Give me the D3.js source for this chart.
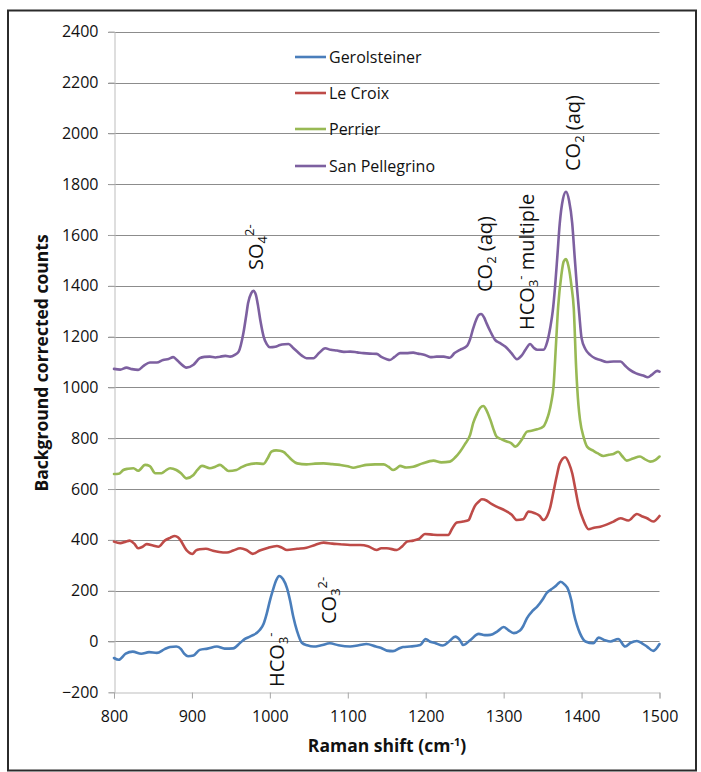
<!DOCTYPE html>
<html>
<head>
<meta charset="utf-8">
<script src="https://cdn.jsdelivr.net/npm/d3@7"></script>
<style>
  html, body { margin: 0; padding: 0; background: #fff; }
  svg { display: block; font-family: "Open Sans", "Noto Sans", sans-serif; }
</style>
</head>
<body>
<svg id="chart" width="701" height="772"></svg>
<script>
// ---- Data ----
const seriesNames = ["Gerolsteiner", "Le Croix", "Perrier", "San Pellegrino"];
const seriesColors = ["#4A7EBB", "#BE4B48", "#98B954", "#7D60A0"];

const gerolsteinerShift = [800,806,815,824,835,845,855,865,872,880,886,890,895,902,910,920,932,942,953,962,968,975,987,992,996,1000,1004,1008,1012,1017,1022,1026,1030,1035,1041,1048,1056,1066,1077,1088,1103,1114,1124,1136,1143,1150,1158,1167,1171,1180,1193,1200,1205,1212,1222,1230,1238,1244,1248,1257,1268,1276,1283,1292,1300,1306,1313,1321,1325,1330,1337,1343,1350,1355,1361,1366,1370,1373,1378,1383,1387,1390,1394,1398,1405,1415,1422,1430,1437,1447,1456,1463,1471,1478,1484,1492,1500];
const gerolsteinerCounts = [-65,-72,-48,-40,-48,-42,-45,-30,-22,-20,-30,-48,-58,-55,-33,-28,-20,-28,-27,-5,10,20,45,70,110,160,203,240,258,245,210,160,98,40,-5,-15,-20,-15,-7,-15,-20,-15,-10,-20,-26,-36,-38,-26,-22,-20,-14,10,0,-6,-16,0,19,5,-14,5,30,25,26,40,57,45,33,43,60,92,120,137,165,190,205,216,228,235,225,203,160,111,65,32,0,-7,15,5,0,10,-20,-5,2,-8,-20,-37,-10];

const leCroixShift = [800,808,815,820,826,831,836,842,850,857,865,872,878,882,885,893,901,905,910,918,927,935,945,953,962,970,978,987,996,1009,1015,1022,1035,1047,1058,1069,1080,1090,1103,1116,1126,1137,1143,1150,1163,1170,1176,1184,1192,1199,1210,1218,1229,1234,1240,1248,1255,1259,1263,1268,1272,1278,1283,1291,1302,1310,1317,1325,1332,1340,1346,1351,1356,1360,1364,1368,1372,1379,1384,1388,1392,1396,1402,1409,1416,1424,1432,1441,1450,1460,1471,1478,1484,1492,1500];
const leCroixCounts = [393,387,393,397,385,367,372,383,378,373,397,408,415,410,400,360,345,358,363,365,357,352,350,358,367,360,345,358,367,376,370,360,365,369,380,389,385,383,380,380,375,360,367,367,360,375,393,397,405,423,420,419,419,445,468,472,478,505,533,550,560,555,544,531,515,500,478,481,511,505,495,478,495,531,590,649,700,725,700,662,600,537,480,442,448,452,460,472,485,476,502,492,485,472,494];

const perrierShift = [800,806,812,818,825,831,840,846,853,861,866,872,880,886,893,902,907,913,923,930,936,941,947,957,963,970,983,992,997,1002,1008,1013,1018,1022,1028,1035,1047,1058,1069,1080,1090,1100,1107,1116,1124,1135,1146,1152,1158,1163,1167,1175,1184,1195,1210,1220,1231,1238,1244,1250,1257,1261,1266,1270,1274,1278,1283,1287,1291,1298,1304,1310,1315,1323,1330,1337,1343,1351,1355,1358,1361,1364,1367,1370,1374,1377,1380,1383,1387,1390,1393,1396,1398,1403,1407,1415,1421,1428,1435,1441,1447,1452,1458,1466,1475,1481,1488,1495,1500];
const perrierCounts = [659,660,675,680,682,672,695,690,662,662,672,682,675,662,642,655,675,691,682,688,695,685,671,675,685,695,701,699,720,747,752,751,745,734,715,701,697,700,701,698,695,690,684,690,695,697,697,688,675,682,691,685,688,700,712,705,708,725,747,775,813,860,898,920,927,910,872,835,806,795,787,780,767,793,826,830,835,846,870,898,940,1003,1160,1320,1440,1495,1505,1480,1400,1310,1080,930,872,800,767,751,740,730,735,738,747,730,712,720,728,718,708,715,728];

const sanPellegrinoShift = [800,808,816,823,831,838,846,855,863,870,876,880,885,893,902,910,916,923,930,936,943,949,955,960,966,970,972,976,979,982,985,988,992,996,1000,1007,1013,1019,1024,1030,1035,1041,1047,1056,1063,1071,1078,1086,1095,1103,1112,1120,1128,1137,1143,1150,1154,1160,1167,1175,1184,1190,1199,1206,1214,1223,1231,1237,1244,1253,1257,1261,1268,1271,1275,1278,1283,1289,1295,1302,1310,1317,1323,1328,1334,1339,1343,1351,1356,1360,1363,1366,1369,1372,1376,1380,1384,1388,1391,1394,1397,1400,1405,1411,1417,1424,1432,1441,1450,1456,1462,1470,1479,1485,1490,1497,1500];
const sanPellegrinoCounts = [1073,1070,1078,1072,1069,1085,1098,1098,1108,1112,1119,1110,1095,1078,1089,1115,1120,1121,1118,1121,1124,1121,1128,1141,1213,1290,1331,1370,1380,1365,1318,1260,1200,1170,1158,1160,1167,1170,1171,1155,1141,1125,1115,1115,1135,1154,1148,1145,1140,1141,1138,1135,1133,1132,1120,1111,1108,1120,1135,1135,1137,1133,1128,1119,1121,1121,1117,1135,1148,1163,1190,1233,1285,1289,1275,1253,1220,1187,1175,1161,1135,1111,1125,1148,1171,1155,1148,1148,1180,1239,1300,1397,1520,1646,1740,1770,1735,1646,1520,1397,1290,1194,1150,1128,1115,1108,1100,1102,1102,1085,1069,1055,1047,1040,1049,1065,1062];

const xTicks = [800, 900, 1000, 1100, 1200, 1300, 1400, 1500];
const yTicks = [-200, 0, 200, 400, 600, 800, 1000, 1200, 1400, 1600, 1800, 2000, 2200, 2400];

// ---- Layout ----
const svg = d3.select("#chart");
const x = d3.scaleLinear().domain([800, 1500]).range([114, 659.5]);
const y = d3.scaleLinear().domain([-200, 2400]).range([692.3, 31.7]);

// outer border
svg.append("rect").attr("x", 8).attr("y", 10.5).attr("width", 688).attr("height", 760)
  .attr("fill", "none").attr("stroke", "#2b2b2b").attr("stroke-width", 2);

// horizontal gridlines
svg.append("g").selectAll("line").data(yTicks.filter(d => d !== -200)).join("line")
  .attr("x1", 108).attr("x2", x(1500))
  .attr("y1", d => Math.round(y(d)) + 0.5).attr("y2", d => Math.round(y(d)) + 0.5)
  .attr("stroke", "#8c8c8c").attr("stroke-width", 1);

// y axis (line + ticks + labels)
const yAxis = d3.axisLeft(y).tickValues(yTicks).tickSize(6).tickPadding(10).tickFormat(d3.format("d"));
const gy = svg.append("g").attr("transform", `translate(${Math.round(x(800)) + 0.5},0)`).call(yAxis);
gy.select(".domain").attr("stroke", "#bdbdbd");
gy.selectAll(".tick line").attr("stroke", "#a6a6a6");
gy.selectAll(".tick text").attr("font-size", 16).attr("fill", "#111").attr("font-family", "Open Sans");

// x axis
const xAxis = d3.axisBottom(x).tickValues(xTicks).tickSize(6).tickPadding(12).tickFormat(d3.format("d"));
const gx = svg.append("g").attr("transform", `translate(0,${Math.round(y(-200)) + 0.5})`).call(xAxis);
gx.select(".domain").attr("stroke", "#bdbdbd");
gx.selectAll(".tick line").attr("stroke", "#a6a6a6");
gx.selectAll(".tick text").attr("font-size", 16).attr("fill", "#111").attr("font-family", "Open Sans");

// series
const allSeries = [
  { name: seriesNames[0], color: seriesColors[0], xs: gerolsteinerShift, ys: gerolsteinerCounts },
  { name: seriesNames[1], color: seriesColors[1], xs: leCroixShift, ys: leCroixCounts },
  { name: seriesNames[2], color: seriesColors[2], xs: perrierShift, ys: perrierCounts },
  { name: seriesNames[3], color: seriesColors[3], xs: sanPellegrinoShift, ys: sanPellegrinoCounts }
];
const line = d3.line().x(d => x(d[0])).y(d => y(d[1])).curve(d3.curveMonotoneX);
svg.append("g").selectAll("path").data(allSeries).join("path")
  .attr("d", s => line(s.xs.map((v, i) => [v, s.ys[i]])))
  .attr("fill", "none").attr("stroke", s => s.color)
  .attr("stroke-width", 2.6).attr("stroke-linejoin", "round").attr("stroke-linecap", "round");

// legend
const legendY = [57, 93, 129, 166];
const lg = svg.append("g");
allSeries.forEach((s, i) => {
  lg.append("line").attr("x1", 295).attr("x2", 326).attr("y1", legendY[i]).attr("y2", legendY[i])
    .attr("stroke", s.color).attr("stroke-width", 2.6);
  lg.append("text").attr("x", 329).attr("y", legendY[i]).attr("dy", "0.36em")
    .attr("font-size", 16).attr("fill", "#111").text(s.name);
});

// axis titles
svg.append("text").attr("x", 387).attr("y", 752).attr("text-anchor", "middle")
  .attr("font-size", 17.5).attr("font-weight", "bold").attr("fill", "#111")
  .call(t => {
    t.append("tspan").text("Raman shift (cm");
    t.append("tspan").attr("font-size", 11).attr("baseline-shift", "6").text("-1");
    t.append("tspan").text(")");
  });
svg.append("text").attr("transform", "translate(48,363) rotate(-90)").attr("text-anchor", "middle")
  .attr("font-size", 17.5).attr("font-weight", "bold").attr("fill", "#111")
  .text("Background corrected counts");

// annotations (rotated)
function annot(cx, bottom, parts) {
  const t = svg.append("text")
    .attr("transform", `translate(${cx + 7},${bottom}) rotate(-90)`)
    .attr("font-size", 20).attr("fill", "#111");
  parts.forEach(p => {
    const sp = t.append("tspan").text(p.t);
    if (p.sub) sp.attr("font-size", 13).attr("baseline-shift", "-4");
    if (p.sup) sp.attr("font-size", 13).attr("baseline-shift", "9");
  });
}
annot(256, 270, [{ t: "SO" }, { t: "4", sub: true }, { t: "2-", sup: true }]);
annot(485, 292, [{ t: "CO" }, { t: "2", sub: true }, { t: " (aq)" }]);
annot(527, 330, [{ t: "HCO" }, { t: "3", sub: true }, { t: "-", sup: true }, { t: " multiple" }]);
annot(573, 171, [{ t: "CO" }, { t: "2", sub: true }, { t: " (aq)" }]);
annot(277, 687, [{ t: "HCO" }, { t: "3", sub: true }, { t: "-", sup: true }]);
annot(329, 624, [{ t: "CO" }, { t: "3", sub: true }, { t: "2-", sup: true }]);
</script>
</body>
</html>
